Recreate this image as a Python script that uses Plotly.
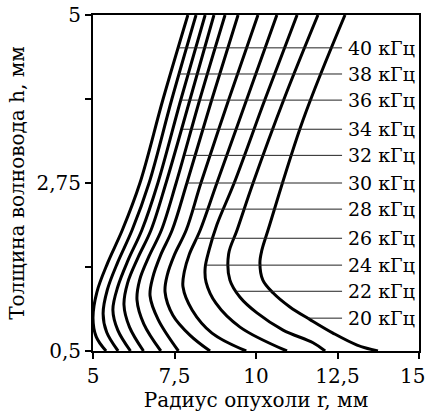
import plotly.graph_objects as go

# Frequencies (kHz), left-most curve = 40 kHz, right-most = 20 kHz
freqs = [40, 38, 36, 34, 32, 30, 28, 26, 24, 22, 20]

# Tumour radius r (mm) along each curve
radius = [
    [7.91, 7.15, 6.44, 5.90, 5.45, 5.12, 5.00, 5.10, 5.40],
    [8.16, 7.42, 6.72, 6.20, 5.76, 5.44, 5.31, 5.42, 5.77],
    [8.44, 7.70, 6.99, 6.50, 6.08, 5.76, 5.61, 5.76, 6.15],
    [8.71, 7.98, 7.24, 6.78, 6.38, 6.06, 5.95, 6.12, 6.55],
    [9.05, 8.28, 7.55, 7.10, 6.72, 6.43, 6.35, 6.56, 7.08],
    [9.45, 8.65, 7.88, 7.43, 7.08, 6.83, 6.75, 7.00, 7.62],
    [10.06, 9.17, 8.31, 7.86, 7.50, 7.28, 7.21, 7.45, 7.98, 8.59],
    [10.64, 9.72, 8.80, 8.29, 7.95, 7.80, 7.76, 8.04, 8.65, 9.70],
    [11.26, 10.28, 9.33, 8.80, 8.56, 8.44, 8.47, 8.77, 9.51, 10.95],
    [11.90, 10.86, 9.91, 9.42, 9.16, 9.20, 9.51, 10.03, 10.83, 11.75, 12.12],
    [12.73, 11.44, 10.37, 10.18, 10.12, 10.21, 10.52, 11.04, 11.66, 12.36, 13.10, 13.74],
]

# Waveguide thickness h (mm) along each curve
thickness = [
    [5.0, 3.875, 2.75, 2.12, 1.68, 1.29, 0.94, 0.69, 0.5],
    [5.0, 3.875, 2.75, 2.12, 1.69, 1.32, 1.00, 0.75, 0.5],
    [5.0, 3.875, 2.75, 2.12, 1.72, 1.36, 1.05, 0.78, 0.5],
    [5.0, 3.875, 2.75, 2.12, 1.75, 1.41, 1.12, 0.82, 0.5],
    [5.0, 3.875, 2.75, 2.12, 1.77, 1.45, 1.18, 0.86, 0.5],
    [5.0, 3.875, 2.75, 2.12, 1.79, 1.48, 1.24, 0.92, 0.5],
    [5.0, 3.875, 2.75, 2.12, 1.79, 1.52, 1.29, 0.98, 0.71, 0.5],
    [5.0, 3.875, 2.75, 2.12, 1.79, 1.56, 1.36, 1.05, 0.74, 0.5],
    [5.0, 3.875, 2.75, 2.19, 1.85, 1.61, 1.42, 1.14, 0.82, 0.5],
    [5.0, 3.875, 2.75, 2.12, 1.80, 1.45, 1.22, 1.01, 0.78, 0.61, 0.5],
    [5.0, 3.59, 2.12, 1.85, 1.68, 1.45, 1.28, 1.09, 0.92, 0.74, 0.58, 0.5],
]

# Leader lines from each curve to its label
label_h = [4.56, 4.21, 3.86, 3.47, 3.12, 2.75, 2.40, 2.01, 1.65, 1.30, 0.94]
label_r_start = [7.62, 7.64, 7.69, 7.75, 7.82, 7.88, 8.05, 8.17, 8.46, 9.40, 11.59]
label_r_end = 12.64
label_r_text = 12.76

x_ticks = [5, 7.5, 10, 12.5, 15]
x_tick_text = ["5", "7,5", "10", "12,5", "15\u00a0\u00a0"]
y_ticks = [0.5, 1.625, 2.75, 3.875, 5]
y_tick_text = ["0,5", "", "2,75", "", "5"]

FONT = "DejaVu Serif"
FS = 20

fig = go.Figure()

for f, xs, ys in zip(freqs, radius, thickness):
    fig.add_trace(go.Scatter(
        x=xs, y=ys, mode="lines",
        line=dict(color="black", width=3, shape="spline", smoothing=1.0),
        showlegend=False, hoverinfo="skip",
    ))

for f, h, r0 in zip(freqs, label_h, label_r_start):
    fig.add_trace(go.Scatter(
        x=[r0, label_r_end], y=[h, h], mode="lines",
        line=dict(color="#222222", width=1),
        showlegend=False, hoverinfo="skip",
    ))
    fig.add_annotation(
        x=label_r_text, y=h, text=f"{f} кГц", showarrow=False,
        xanchor="left", yanchor="middle", xref="x", yref="y",
        font=dict(family=FONT, size=19, color="black"),
    )

fig.update_layout(
    width=429, height=415,
    margin=dict(l=93, r=10, t=15, b=64, autoexpand=False),
    paper_bgcolor="white", plot_bgcolor="white",
    font=dict(family=FONT, size=FS, color="black"),
)

fig.update_xaxes(
    range=[5, 15], tickvals=x_ticks, ticktext=x_tick_text,
    ticks="outside", ticklen=6, tickwidth=1.5, tickcolor="black",
    showline=True, linewidth=2, linecolor="black", mirror=True,
    showgrid=False, zeroline=False, ticklabeloverflow="allow",
    automargin=False,
    title=dict(text="Радиус опухоли r, мм", standoff=2,
               font=dict(family=FONT, size=FS)),
    tickfont=dict(family=FONT, size=FS),
)
fig.update_yaxes(
    range=[0.5, 5], tickvals=y_ticks, ticktext=y_tick_text,
    ticks="outside", ticklen=6, tickwidth=1.5, tickcolor="black",
    showline=True, linewidth=2, linecolor="black", mirror=True,
    showgrid=False, zeroline=False, ticklabeloverflow="allow",
    automargin=False,
    title=dict(text="Толщина волновода h, мм", standoff=6,
               font=dict(family=FONT, size=FS)),
    tickfont=dict(family=FONT, size=FS),
)

fig.write_html("out.html")
